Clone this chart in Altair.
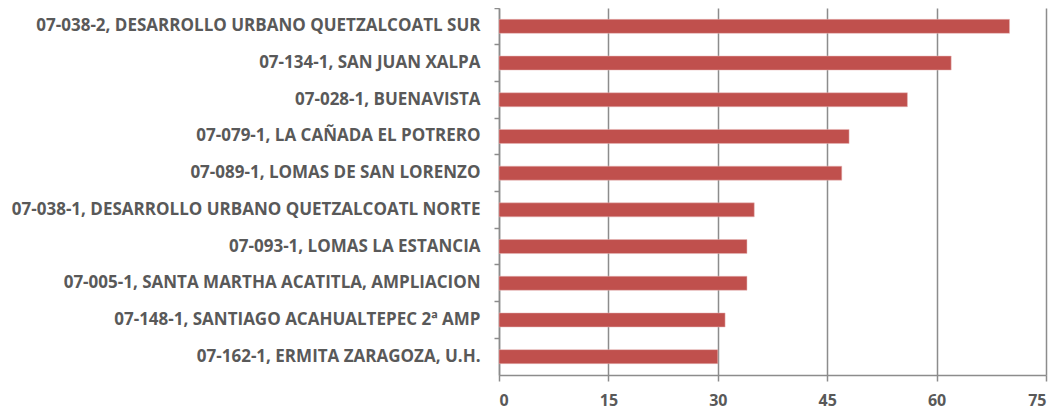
import altair as alt
import pandas as pd

categories = [
    "07-038-2, DESARROLLO URBANO QUETZALCOATL SUR",
    "07-134-1, SAN JUAN XALPA",
    "07-028-1, BUENAVISTA",
    "07-079-1, LA CAÑADA EL POTRERO",
    "07-089-1, LOMAS DE SAN LORENZO",
    "07-038-1, DESARROLLO URBANO QUETZALCOATL NORTE",
    "07-093-1, LOMAS LA ESTANCIA",
    "07-005-1, SANTA MARTHA ACATITLA, AMPLIACION",
    "07-148-1, SANTIAGO ACAHUALTEPEC 2ª AMP",
    "07-162-1, ERMITA ZARAGOZA, U.H.",
]
values = [70, 62, 56, 48, 47, 35, 34, 34, 31, 30]
x_ticks = [0, 15, 30, 45, 60, 75]

df = pd.DataFrame({"cat": categories, "val": values})

FONT = "Open Sans"
GRAY = "#595959"
LINE = "#8c8c8c"

chart = alt.Chart(df).mark_bar(color="#C0504D", stroke="#e6b9b8", strokeWidth=0.5, size=14).encode(
    y=alt.Y("cat:N", sort=categories, title=None,
            scale=alt.Scale(paddingInner=0, paddingOuter=0),
            axis=alt.Axis(labelFont=FONT, labelFontWeight="bold", labelFontSize=17,
                          labelColor=GRAY, labelPadding=14, ticks=True,
                          bandPosition=0,
                          tickColor=LINE, tickSize=5, tickWidth=1.5,
                          domainColor=LINE, domainWidth=1.5, labelLimit=600)),
    x=alt.X("val:Q", title=None,
            scale=alt.Scale(domain=[0, 75], nice=False),
            axis=alt.Axis(values=x_ticks, labelFont=FONT, labelFontWeight="bold",
                          labelFontSize=16, labelColor=GRAY, labelPadding=11,
                          tickColor=LINE, tickSize=6, tickWidth=1.5,
                          grid=True, gridColor=LINE, gridWidth=1.5,
                          domainColor=LINE, domainWidth=1.5)),
).properties(
    width=547, height=367,
    autosize=alt.AutoSizeParams(type="none"),
    padding={"left": 491, "top": 0, "right": 6, "bottom": 36},
).configure_view(stroke=None)

chart.save("out.html", embed_options={"renderer": "svg", "actions": False})
